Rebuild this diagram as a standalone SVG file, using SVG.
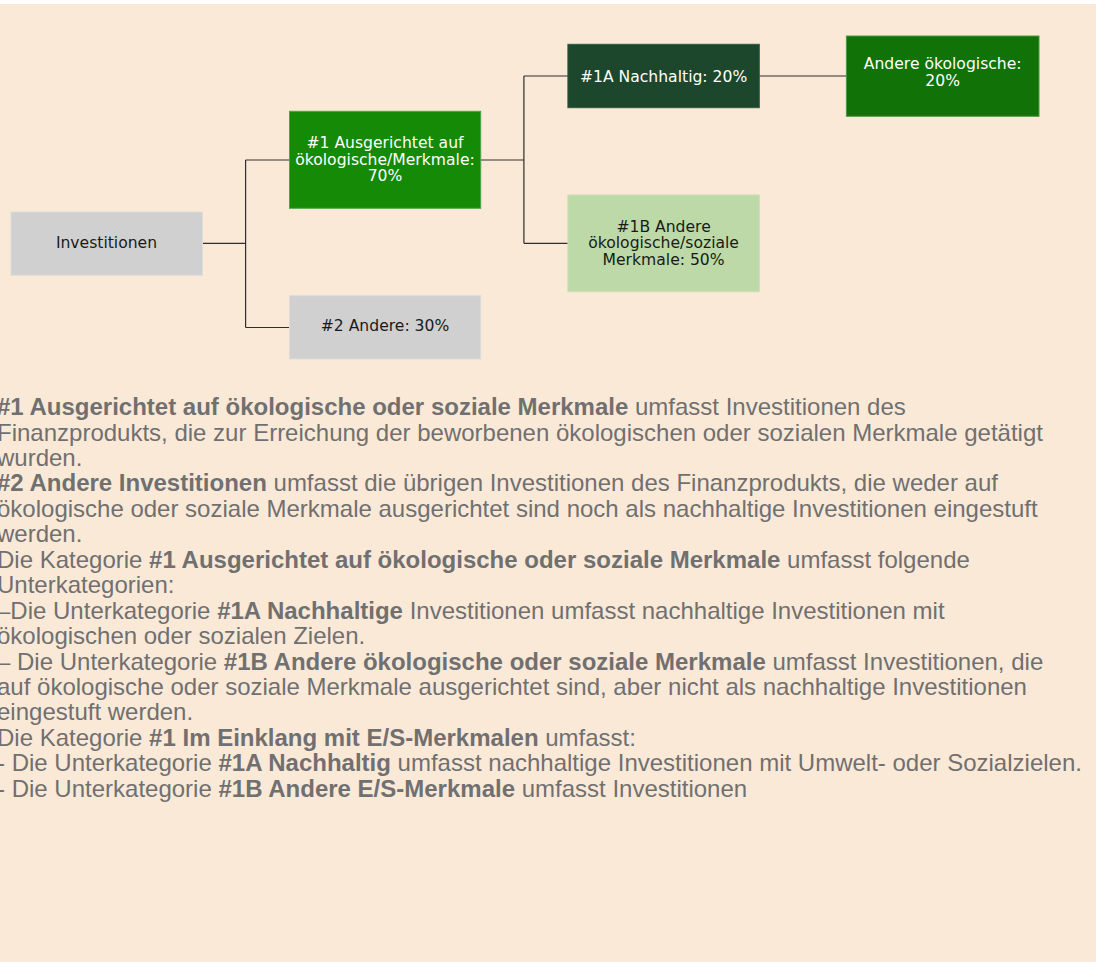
<svg xmlns="http://www.w3.org/2000/svg" width="1098" height="962" viewBox="0 0 1098 962">
<style>
.node{stroke-width:1}
.nt{font-family:"DejaVu Sans",Verdana,sans-serif;font-size:15.6px;text-anchor:middle}
.dark{fill:#1a1a1a}
.light{fill:#ffffff}
.conn{stroke:#2e2e2e;stroke-width:1.2;fill:none}
.para{font-family:"Liberation Sans",Arial,sans-serif;font-size:24px;fill:#707070}
.b{font-weight:bold}
</style>
<rect x="0" y="0" width="1098" height="962" fill="#ffffff"/>
<rect x="0" y="4" width="1096" height="958" fill="#fbe9d8"/>
<g id="connectors">
<path class="conn" d="M202.5 243.3 H245.6 M245.6 160 V327.5 M245.6 160 H289.5 M245.6 327.5 H289.5"/>
<path class="conn" d="M480.7 160 H523.9 M523.9 76 V243.3 M523.9 76 H568 M523.9 243.3 H568"/>
<path class="conn" d="M759.3 76 H846.4"/>
</g>
<g id="node-investitionen">
<rect class="node" x="11" y="212" width="191.5" height="63.3" fill="#d0d0d0" stroke="#dcdcdc"/>
<text class="nt dark" x="106.5" y="248.3">Investitionen</text>
</g>
<g id="node-1">
<rect class="node" x="289.5" y="111.3" width="191.2" height="97" fill="#148a07" stroke="#4ea645"/>
<text class="nt light" x="385" y="148.2">#1 Ausgerichtet auf</text>
<text class="nt light" x="385" y="164.8">ökologische/Merkmale:</text>
<text class="nt light" x="385" y="181.3">70%</text>
</g>
<g id="node-2">
<rect class="node" x="289.5" y="295.7" width="191.2" height="63.3" fill="#d0d0d0" stroke="#dcdcdc"/>
<text class="nt dark" x="385" y="331.3">#2 Andere: 30%</text>
</g>
<g id="node-1a">
<rect class="node" x="567.9" y="44.3" width="191.4" height="63.4" fill="#1d472c" stroke="#2f5a3d"/>
<text class="nt light" x="663.6" y="81.5">#1A Nachhaltig: 20%</text>
</g>
<g id="node-andere">
<rect class="node" x="846.4" y="36" width="192.6" height="80.3" fill="#107207" stroke="#4a9a42"/>
<text class="nt light" x="942.7" y="69">Andere ökologische:</text>
<text class="nt light" x="942.7" y="85.5">20%</text>
</g>
<g id="node-1b">
<rect class="node" x="567.9" y="195" width="191.4" height="96.7" fill="#bdd9a7" stroke="#c8e0b5"/>
<text class="nt dark" x="663.6" y="231.5">#1B Andere</text>
<text class="nt dark" x="663.6" y="248">ökologische/soziale</text>
<text class="nt dark" x="663.6" y="264.6">Merkmale: 50%</text>
</g>
<g id="text">
<text class="para" x="-3" y="415"><tspan class="b">#1 Ausgerichtet auf ökologische oder soziale Merkmale</tspan> umfasst Investitionen des</text>
<text class="para" x="-3" y="440.5">Finanzprodukts, die zur Erreichung der beworbenen ökologischen oder sozialen Merkmale getätigt</text>
<text class="para" x="-3" y="466">wurden.</text>
<text class="para" x="-3" y="491.4"><tspan class="b">#2 Andere Investitionen</tspan> umfasst die übrigen Investitionen des Finanzprodukts, die weder auf</text>
<text class="para" x="-3" y="516.8">ökologische oder soziale Merkmale ausgerichtet sind noch als nachhaltige Investitionen eingestuft</text>
<text class="para" x="-3" y="542.3">werden.</text>
<text class="para" x="-3" y="567.7">Die Kategorie <tspan class="b">#1 Ausgerichtet auf ökologische oder soziale Merkmale</tspan> umfasst folgende</text>
<text class="para" x="-3" y="593.2">Unterkategorien:</text>
<text class="para" x="-3" y="618.6">–Die Unterkategorie <tspan class="b">#1A Nachhaltige</tspan> Investitionen umfasst nachhaltige Investitionen mit</text>
<text class="para" x="-3" y="644">ökologischen oder sozialen Zielen.</text>
<text class="para" x="-3" y="669.5">– Die Unterkategorie <tspan class="b">#1B Andere ökologische oder soziale Merkmale</tspan> umfasst Investitionen, die</text>
<text class="para" x="-3" y="695">auf ökologische oder soziale Merkmale ausgerichtet sind, aber nicht als nachhaltige Investitionen</text>
<text class="para" x="-3" y="720.4">eingestuft werden.</text>
<text class="para" x="-3" y="745.8">Die Kategorie <tspan class="b">#1 Im Einklang mit E/S-Merkmalen</tspan> umfasst:</text>
<text class="para" x="-3" y="771.3">- Die Unterkategorie <tspan class="b">#1A Nachhaltig</tspan> umfasst nachhaltige Investitionen mit Umwelt- oder Sozialzielen.</text>
<text class="para" x="-3" y="796.7">- Die Unterkategorie <tspan class="b">#1B Andere E/S-Merkmale</tspan> umfasst Investitionen</text>
</g>
</svg>
